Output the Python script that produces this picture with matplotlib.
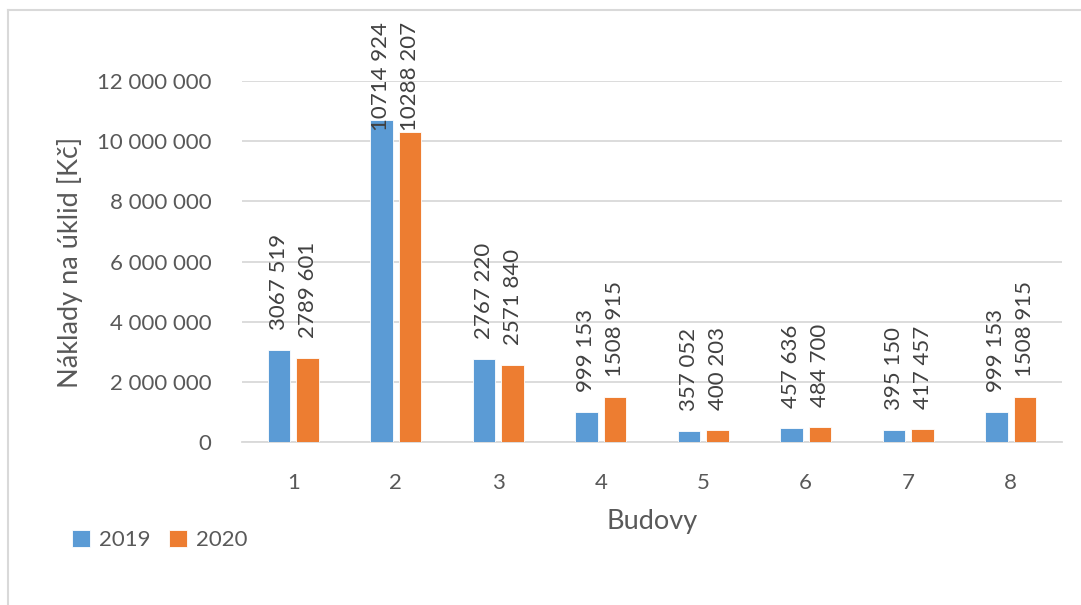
import matplotlib
matplotlib.use('Agg')
import matplotlib.pyplot as plt
from matplotlib.lines import Line2D
from matplotlib.ticker import FuncFormatter, MultipleLocator
import numpy as np

budovy = ['1', '2', '3', '4', '5', '6', '7', '8']
naklady_2019 = [3067519, 10714924, 2767220, 999153, 357052, 457636, 395150, 999153]
naklady_2020 = [2789601, 10288207, 2571840, 1508915, 400203, 484700, 417457, 1508915]

BLUE = '#5B9BD5'
ORANGE = '#ED7D31'
TEXT = '#595959'
GRID = '#D9D9D9'

plt.rcParams['font.family'] = ['Lato', 'DejaVu Sans']


def label_fmt(v):
    # popisky sloupcu: mezera jen pred poslednimi tremi cislicemi
    v = int(v)
    if v >= 1000:
        return '%d %03d' % (v // 1000, v % 1000)
    return str(v)


def tick_fmt(v, pos):
    return '{:,.0f}'.format(v).replace(',', ' ')


fig = plt.figure(figsize=(10.81, 6.05), dpi=100)
ax = fig.add_axes([242 / 1081, 1 - 442 / 605, 820 / 1081, 361 / 605])

x = np.arange(len(budovy))
w = 0.22
off = 0.14
b1 = ax.bar(x - off, naklady_2019, w, color=BLUE, edgecolor='white', linewidth=0.6,
            label='2019', zorder=3)
b2 = ax.bar(x + off, naklady_2020, w, color=ORANGE, edgecolor='white', linewidth=0.6,
            label='2020', zorder=3)

labels = []
for bars, vals in ((b1, naklady_2019), (b2, naklady_2020)):
    for rect, v in zip(bars, vals):
        t = ax.annotate(label_fmt(v), (rect.get_x() + rect.get_width() / 2, v),
                        xytext=(0, 20), textcoords='offset pixels', rotation=90,
                        ha='center', va='bottom', fontsize=16, color='#404040',
                        annotation_clip=False)
        labels.append(t)

ax.set_xlim(-0.5, len(budovy) - 0.5)
ax.set_ylim(0, 12000000)
ax.yaxis.set_major_locator(MultipleLocator(2000000))
ax.yaxis.set_major_formatter(FuncFormatter(tick_fmt))
ax.set_xticks(x)
ax.set_xticklabels(budovy)
ax.tick_params(axis='both', length=0, labelsize=16, labelcolor=TEXT)
ax.tick_params(axis='x', pad=22)
ax.tick_params(axis='y', pad=22)
ax.grid(axis='y', color=GRID, linewidth=1.3, zorder=0)
for s in ('top', 'right', 'left'):
    ax.spines[s].set_visible(False)
ax.spines['bottom'].set_color(GRID)
ax.spines['bottom'].set_linewidth(1.3)

fig.text(70 / 1081, 1 - 262 / 605, 'Náklady na úklid [Kč]', rotation=90,
         ha='center', va='center', fontsize=19.5, color=TEXT)
fig.text(652 / 1081, 1 - 522 / 605, 'Budovy', ha='center', va='center',
         fontsize=19.5, color=TEXT)

fig.legend(handles=[b1, b2], labels=['2019', '2020'], loc='center left',
           bbox_to_anchor=(52 / 1081, 1 - 540 / 605), ncol=2, frameon=False,
           fontsize=16, handlelength=0.8, handleheight=0.8, handletextpad=0.4,
           columnspacing=0.85, labelcolor=TEXT)

# ramecek grafu
fig.add_artist(Line2D([8 / 1081, 1], [1 - 10 / 605, 1 - 10 / 605], color=GRID,
                      linewidth=1.5, transform=fig.transFigure))
fig.add_artist(Line2D([8 / 1081, 8 / 1081], [0, 1 - 10 / 605], color=GRID,
                      linewidth=1.5, transform=fig.transFigure))

# popisky, ktere by presahly ramecek, posunout dolu
fig.canvas.draw()
r = fig.canvas.get_renderer()
top_px = 605 - 22
for t in labels:
    bb = t.get_window_extent(r)
    if bb.y1 > top_px:
        t.set_position((0, 20 - (bb.y1 - top_px)))

fig.savefig('out.png', dpi=100)
